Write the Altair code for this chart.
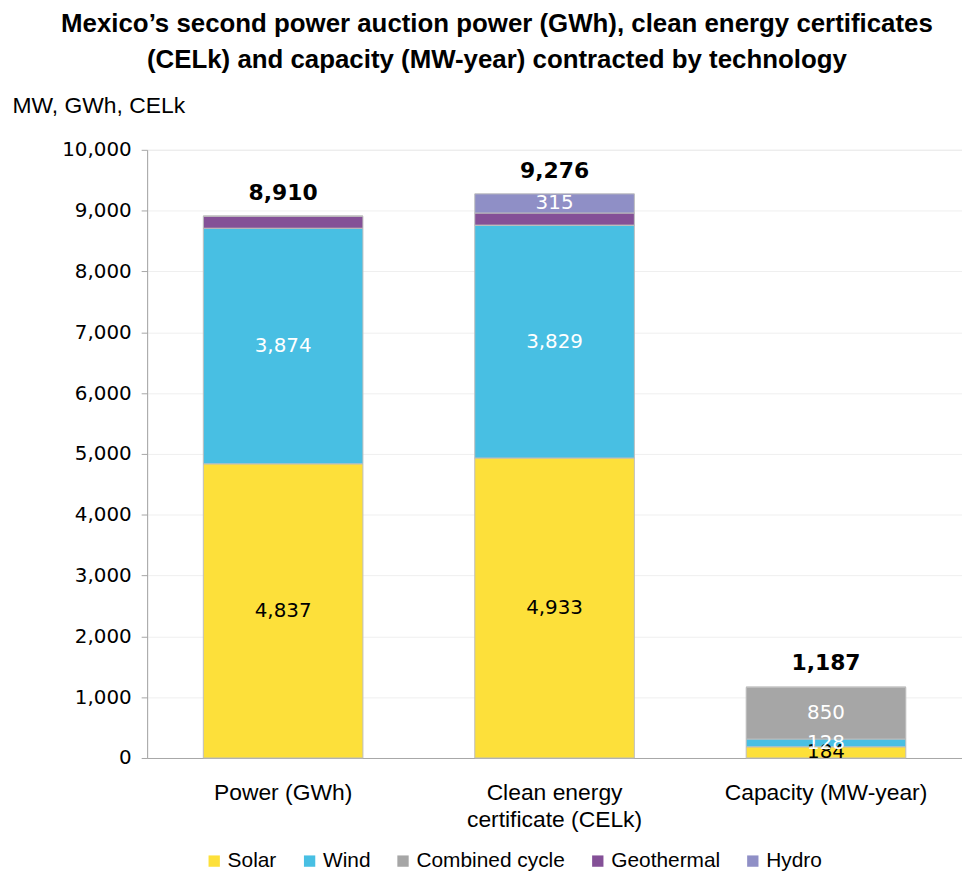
import altair as alt
import pandas as pd

categories = ["Power (GWh)", "Clean energy certificate (CELk)", "Capacity (MW-year)"]
technologies = ["Solar", "Wind", "Combined cycle", "Geothermal", "Hydro"]
solar = [4837, 4933, 184]
wind = [3874, 3829, 128]
combined_cycle = [0, 0, 850]
geothermal = [199, 199, 0]
hydro = [0, 315, 0]
totals = [8910, 9276, 1187]
colors = ["#FDE03A", "#48BFE3", "#A6A6A6", "#845097", "#8F8FC6"]

series = [solar, wind, combined_cycle, geothermal, hydro]
rows = []
for ti, (tech, vals) in enumerate(zip(technologies, series)):
    for ci, cat in enumerate(categories):
        rows.append({"category": cat, "tech": tech, "order": ti, "value": vals[ci]})
df = pd.DataFrame(rows)
tot_df = pd.DataFrame({"category": categories, "total": totals})

FONT = "Liberation Sans, Arial"
NUMFONT = "DejaVu Sans"

x_enc = alt.X(
    "category:N",
    sort=categories,
    scale=alt.Scale(paddingInner=0.412, paddingOuter=0.207),
    axis=alt.Axis(
        title=None, labelAngle=0, ticks=False, grid=False,
        labelFontSize=23, labelFont=FONT, labelColor="black", labelLimit=400,
        labelPadding=24, labelLineHeight=27, domainColor="#A6A6A6",
        labelExpr="datum.value == 'Clean energy certificate (CELk)' ? ['Clean energy', 'certificate (CELk)'] : datum.value",
    ),
)

y_scale = alt.Scale(domain=[0, 10000], nice=False)
y_axis = alt.Axis(
    values=list(range(0, 10001, 1000)), format=",d",
    labelFontSize=20, labelFont=NUMFONT, labelColor="black", labelPadding=10,
    tickSize=6, tickColor="#A6A6A6", domainColor="#A6A6A6",
    gridColor="#EFEFEF",
    title="MW, GWh, CELk", titleAngle=0, titleX=-136, titleY=-45,
    titleAlign="left", titleBaseline="middle", titleFontWeight="normal",
    titleFontSize=23, titleFont=FONT, titleColor="black",
)

bars = alt.Chart(df).mark_bar(stroke="#BDBDBD", strokeWidth=1).encode(
    x=x_enc,
    y=alt.Y("value:Q", stack="zero", scale=y_scale, axis=y_axis),
    color=alt.Color(
        "tech:N",
        scale=alt.Scale(domain=technologies, range=colors),
        legend=alt.Legend(
            title=None, orient="none", legendX=57, legendY=705,
            direction="horizontal", symbolType="square", symbolSize=130,
            symbolStrokeWidth=0, labelFontSize=21, labelFont=FONT,
            labelColor="black", columnPadding=22, labelOffset=3,
        ),
    ),
    order=alt.Order("order:Q", sort="ascending"),
)

seg_labels = alt.Chart(df).transform_stack(
    stack="value", groupby=["category"], as_=["y0", "y1"],
    sort=[alt.SortField("order", order="ascending")],
).transform_calculate(
    mid="(datum.y0 + datum.y1) / 2",
    label="format(datum.value, ',')",
).transform_filter(
    "datum.value > 0 && datum.tech != 'Geothermal'"
).mark_text(fontSize=20, font=NUMFONT, baseline="middle").encode(
    x=alt.X("category:N", sort=categories),
    y=alt.Y("mid:Q", scale=y_scale, axis=y_axis),
    text="label:N",
    color=alt.condition("datum.tech == 'Solar'", alt.value("black"), alt.value("white")),
)

tot_labels = alt.Chart(tot_df).mark_text(
    fontSize=22, font=NUMFONT, fontWeight="bold", baseline="bottom", dy=-11, color="black"
).encode(
    x=alt.X("category:N", sort=categories),
    y=alt.Y("total:Q", scale=y_scale, axis=y_axis),
    text=alt.Text("total:Q", format=","),
)

chart = alt.layer(bars, seg_labels, tot_labels).properties(
    width=820,
    height=612,
    autosize=alt.AutoSizeParams(type="none"),
    padding={"left": 140, "top": 140, "right": 0, "bottom": 111},
    title=alt.TitleParams(
        text=["Mexico’s second power auction power (GWh),  clean energy certificates",
              "(CELk) and capacity (MW-year) contracted by technology"],
        font=FONT, fontSize=26, fontWeight="bold", color="black",
        anchor="middle", dx=-58, lineHeight=37, offset=21,
    ),
).configure_view(strokeWidth=0, strokeOpacity=0).configure(background="white")

chart.save("out.html", embed_options={"renderer": "svg", "actions": False})
